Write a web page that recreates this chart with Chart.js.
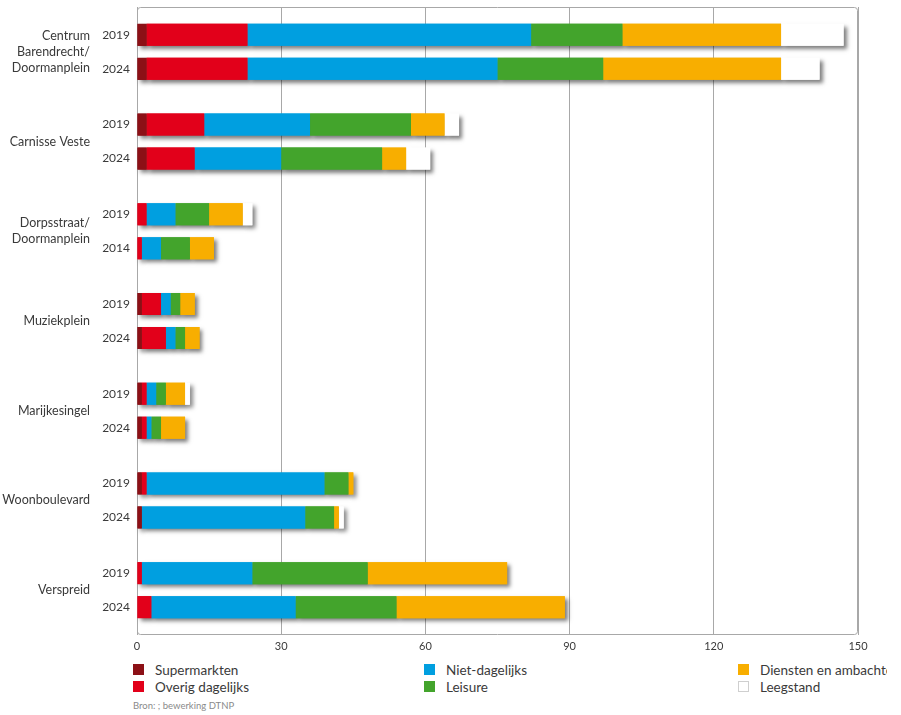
<!DOCTYPE html>
<html lang="nl">
<head>
<meta charset="utf-8">
<title>Winkelgebieden Barendrecht 2019 - 2024</title>
<script src="https://cdn.jsdelivr.net/npm/chart.js@4/dist/chart.umd.min.js"></script>
<style>
	html, body { margin: 0; padding: 0; background: #fff; overflow: hidden; }
	body { width: 901px; height: 715px; position: relative; font-family: Lato, 'Open Sans', sans-serif; color: #3a3a3a; }
	#chart-wrap { position: absolute; left: 0; top: 0; width: 901px; height: 660px; }
	#legend { position: absolute; left: 133px; top: 661px; width: 754px; overflow: hidden; display: grid; grid-template-columns: 291px 314px 149px; grid-template-rows: 17px 17px; grid-auto-flow: column; font-size: 13.5px; }
	.item { display: flex; align-items: center; white-space: nowrap; overflow: hidden; }
	.swatch { width: 11px; height: 11px; margin-right: 11px; flex: none; box-sizing: border-box; }
	#source { position: absolute; left: 133px; top: 700px; font-size: 9.5px; color: #8a8a8a; }
</style>
</head>
<body>
<div id="chart-wrap"><canvas id="chart"></canvas></div>
<div id="legend"></div>
<div id="source">Bron: ; bewerking DTNP</div>
<script>
// Winkelgebieden, aantal verkooppunten per branchegroep
const groupLabels = [
	['Centrum', 'Barendrecht/', 'Doormanplein'],
	'Carnisse Veste',
	['Dorpsstraat/', 'Doormanplein'],
	'Muziekplein',
	'Marijkesingel',
	'Woonboulevard',
	'Verspreid',
];
const yearsTop = ['2019', '2019', '2019', '2019', '2019', '2019', '2019'];
const yearsBottom = ['2024', '2024', '2014', '2024', '2024', '2024', '2024'];

const seriesNames = ['Supermarkten', 'Overig dagelijks', 'Niet-dagelijks', 'Leisure', 'Diensten en ambachten', 'Leegstand'];
const seriesColors = ['#8c1016', '#e2001a', '#009fe0', '#43a42c', '#f8ae00', '#ffffff'];

const supermarktenTop = [2, 2, 0, 1, 1, 1, 0];
const supermarktenBottom = [2, 2, 0, 1, 1, 1, 0];
const overigTop = [21, 12, 2, 4, 1, 1, 1];
const overigBottom = [21, 10, 1, 5, 1, 0, 3];
const nietDagelijksTop = [59, 22, 6, 2, 2, 37, 23];
const nietDagelijksBottom = [52, 18, 4, 2, 1, 34, 30];
const leisureTop = [19, 21, 7, 2, 2, 5, 24];
const leisureBottom = [22, 21, 6, 2, 2, 6, 21];
const dienstenTop = [33, 7, 7, 3, 4, 1, 29];
const dienstenBottom = [37, 5, 5, 3, 5, 1, 35];
const leegstandTop = [13, 3, 2, 0, 1, 0, 0];
const leegstandBottom = [8, 5, 0, 0, 0, 1, 0];

const seriesTop = [supermarktenTop, overigTop, nietDagelijksTop, leisureTop, dienstenTop, leegstandTop];
const seriesBottom = [supermarktenBottom, overigBottom, nietDagelijksBottom, leisureBottom, dienstenBottom, leegstandBottom];

const xMin = 0;
const xMax = 150;
const xStep = 30;

const textColor = '#3a3a3a';
const gridColor = '#a8a8a8';

// two stacks per area: first year on top, second year below
const datasets = [];
seriesNames.forEach((name, i) => {
	datasets.push({
		label: name,
		data: seriesTop[i],
		stack: 'top',
		backgroundColor: seriesColors[i],
		borderWidth: 0,
	});
	datasets.push({
		label: name,
		data: seriesBottom[i],
		stack: 'bottom',
		backgroundColor: seriesColors[i],
		borderWidth: 0,
	});
});

const plotFrame = {
	id: 'plotFrame',
	beforeDatasetsDraw(chart) {
		const { ctx, chartArea } = chart;
		ctx.save();
		ctx.strokeStyle = gridColor;
		ctx.lineWidth = 1;
		ctx.beginPath();
		ctx.roundRect(chartArea.left + 0.5, chartArea.top + 0.5, chartArea.width - 1, chartArea.height - 1, 3);
		ctx.stroke();
		ctx.restore();

		// shadow pass: the normal draw afterwards hides the seams between segments
		ctx.save();
		ctx.shadowColor = 'rgba(0, 0, 0, 0.5)';
		ctx.shadowBlur = 4;
		ctx.shadowOffsetX = 3;
		ctx.shadowOffsetY = 3;
		chart.getSortedVisibleDatasetMetas().forEach((meta) => {
			meta.data.forEach((bar) => bar.draw(ctx));
		});
		ctx.restore();
	},
};

const yearLabels = {
	id: 'yearLabels',
	afterDraw(chart) {
		const ctx = chart.ctx;
		const topBars = chart.getDatasetMeta(0).data;
		const bottomBars = chart.getDatasetMeta(1).data;
		const x = chart.chartArea.left - 7;
		ctx.save();
		ctx.font = '12px Lato, sans-serif';
		ctx.fillStyle = textColor;
		ctx.textAlign = 'right';
		ctx.textBaseline = 'middle';
		groupLabels.forEach((label, i) => {
			ctx.fillText(yearsTop[i], x, topBars[i].y);
			ctx.fillText(yearsBottom[i], x, bottomBars[i].y);
		});
		ctx.restore();
	},
};

const ctx = document.getElementById('chart').getContext('2d');
new Chart(ctx, {
	type: 'bar',
	data: {
		labels: groupLabels,
		datasets: datasets,
	},
	options: {
		indexAxis: 'y',
		responsive: true,
		maintainAspectRatio: false,
		animation: false,
		categoryPercentage: 0.758,
		barPercentage: 0.647,
		layout: {
			padding: { top: 7, right: 43, bottom: 0, left: 0 },
		},
		plugins: {
			legend: { display: false },
			tooltip: { enabled: false },
		},
		scales: {
			x: {
				stacked: true,
				min: xMin,
				max: xMax,
				border: { display: false },
				grid: {
					color: gridColor,
					lineWidth: 1,
					drawTicks: false,
				},
				ticks: {
					stepSize: xStep,
					padding: 5,
					color: textColor,
					font: { family: 'Lato, sans-serif', size: 11 },
				},
				afterFit: (scale) => {
					scale.height = 25;
				},
			},
			y: {
				stacked: true,
				border: { display: false },
				grid: { display: false, drawTicks: false },
				ticks: {
					padding: 47,
					color: textColor,
					font: { family: 'Lato, sans-serif', size: 12.5, lineHeight: 1.3 },
				},
				afterFit: (scale) => {
					// the wide label gap must not shrink the plot vertically
					scale.width = 137;
					scale.paddingTop = 0;
					scale.paddingBottom = 0;
				},
			},
		},
	},
	plugins: [plotFrame, yearLabels],
});

// legend in three columns, filled top to bottom
const legend = document.getElementById('legend');
seriesNames.forEach((name, i) => {
	const item = document.createElement('div');
	item.className = 'item';
	const swatch = document.createElement('span');
	swatch.className = 'swatch';
	swatch.style.background = seriesColors[i];
	if (seriesColors[i] === '#ffffff') {
		swatch.style.border = '1px solid #cfcfcf';
	}
	const text = document.createElement('span');
	text.textContent = name;
	item.appendChild(swatch);
	item.appendChild(text);
	legend.appendChild(item);
});
</script>
</body>
</html>
